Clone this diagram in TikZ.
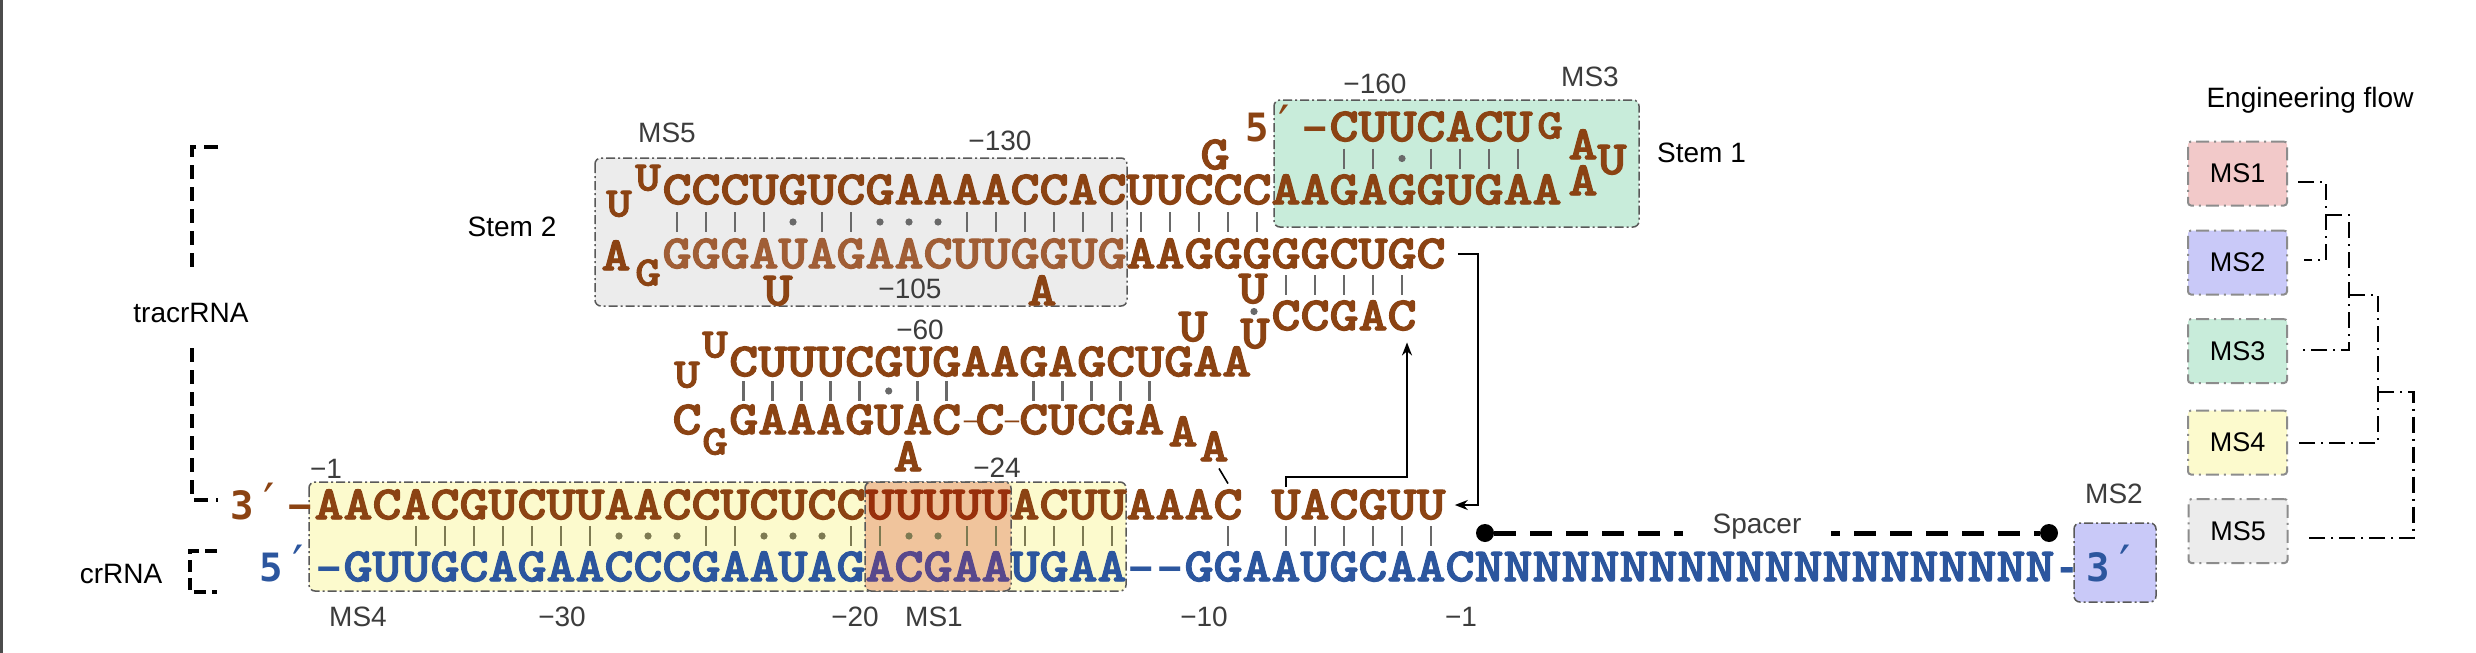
\documentclass[tikz,border=0pt]{standalone}
\usepackage{fontspec}
\usepackage{graphicx}
\setmainfont{Liberation Sans}
\newfontfamily\primefont{DejaVu Sans Mono}
\newfontfamily\pmfont{DejaVu Sans}
\newfontfamily\seqf[FakeBold=2]{lmmonolt10-bold.otf}
\usetikzlibrary{arrows.meta,calc}
\definecolor{brn}{RGB}{139,67,19}
\definecolor{brnl}{RGB}{160,94,54}
\definecolor{brnr}{RGB}{152,48,12}
\definecolor{blu}{RGB}{44,86,158}
\definecolor{pur}{RGB}{88,72,140}
\definecolor{mk}{RGB}{105,105,105}
\definecolor{mky}{RGB}{125,122,82}
\definecolor{lblc}{RGB}{60,60,60}
\definecolor{fgrey}{RGB}{236,236,236}
\definecolor{fgreen}{RGB}{200,236,218}
\definecolor{fyel}{RGB}{252,250,205}
\definecolor{forg}{RGB}{240,196,156}
\definecolor{fblue}{RGB}{201,201,248}
\definecolor{fpink}{RGB}{242,201,201}
\newcommand\sx[1]{\scalebox{1.16}[1]{#1}}
\newcommand\seqrow[6]{\foreach \ch [count=\i from #2] in {#6} {\node[#5] (#1-\i) at ({329+29*(\i+#3)},#4) {\sx{\ch}};}}
\newcommand\pbar[3][mk]{\draw[line width=2.5pt,#1] ($(#2.south)!0.5!(#3.north)+(0,-10)$) -- ($(#2.south)!0.5!(#3.north)+(0,10)$);}
\newcommand\pdot[3][mk]{\fill[#1] ($(#2.south)!0.5!(#3.north)$) circle (3.6pt);}
\tikzset{
  nt/.style={inner sep=0pt, text height=28.5pt, text depth=0pt, text=brn, font=\seqf\fontsize{48}{48}\selectfont},
  ntl/.style={nt, text=brnl},
  ntr/.style={nt, text=brnr},
  ntb/.style={nt, text=blu},
  ntp/.style={nt, text=pur},
  ns/.style={inner sep=0pt, text height=25pt, text depth=0pt, text=brn, font=\seqf\fontsize{42}{42}\selectfont},
  pf/.style={inner sep=0pt, text height=28.5pt, text depth=0pt, text=brn, font=\primefont\bfseries\fontsize{39}{39}\selectfont},
  pfb/.style={pf, text=blu},
  pm/.style={inner sep=0pt, text height=28.5pt, text depth=0pt, text=brn, font=\pmfont\fontsize{50}{50}\selectfont},
  pmb/.style={pm, text=blu},
  dsh/.style={inner sep=0pt, text height=16pt, text depth=0pt, text=brn, font=\fontsize{26}{26}\selectfont},
  lbl/.style={inner sep=0pt, text=lblc, font=\fontsize{28}{30}\selectfont},
  blk/.style={inner sep=0pt, text=black, font=\fontsize{28}{30}\selectfont},
  mbox/.style={draw=black!65, line width=1.5pt, dash pattern=on 9pt off 3pt on 2pt off 3pt, rounded corners=6pt},
  ebox/.style={draw=black!45, line width=2pt, dash pattern=on 13pt off 5pt on 2pt off 5pt, rounded corners=3pt, minimum width=99pt, minimum height=64pt, inner sep=0pt, font=\fontsize{27}{29}\selectfont},
  clad/.style={line width=2.2pt, dash pattern=on 16pt off 6pt on 2pt off 6pt},
  brk/.style={line width=4.5pt, dash pattern=on 14pt off 8pt},
  arr/.style={line width=2pt, -{Stealth[length=13pt,width=10pt]}},
  spl/.style={line width=5pt, dash pattern=on 22pt off 14pt},
}
\begin{document}
\begin{tikzpicture}[x=1pt,y=-1pt]
\useasboundingbox (0,0) rectangle (2476,653);
\fill[white] (0,0) rectangle (2476,653);
\fill[black!70] (0,0) rectangle (3,653);
% boxes
\draw[mbox, fill=fgrey] (595,158) rectangle (1127,306);
\draw[mbox, fill=fgreen] (1274,100) rectangle (1639,227);
\draw[mbox, fill=fyel] (309,482) rectangle (1126,591);
\draw[mbox, fill=forg] (865,482) rectangle (1011,591);
\draw[mbox, fill=fblue] (2074,523) rectangle (2156,602);
% stem 1
\node[pf] (p5a) at (1257,127) {5};
\node[pm] (p5b) at (1284,127) {′};
\node[pf] (p5c) at (1315,127) {−};
\seqrow{s1t}{35}{0}{127}{nt}{C,U,U,C,A,C,U}
\node[ns] (l1g) at (1550,126) {\sx{G}};
\node[nt] (l1a) at (1583,145) {\sx{A}};
\node[nt] (l1u) at (1612,160) {\sx{U}};
\node[nt] (l1b) at (1583,181) {\sx{A}};
% stem 2 top
\seqrow{s2t}{12}{0}{190}{nt}{C,C,C,U,G,U,C,G,A,A,A,A,C,C,A,C,U,U,C,C,C,A,A,G,A,G,G,U,G,A,A}
\node[ns] (l2u1) at (619,204) {\sx{U}};
\node[ns] (l2u2) at (648,178) {\sx{U}};
\node[nt] (l2a) at (616,256) {\sx{A}};
\node[ns] (l2g) at (648,273) {\sx{G}};
\seqrow{s2b}{12}{0}{254}{ntl}{G,G,G,A,U,A,G,A,A,C,U,U,G,G,U,G}
\seqrow{s2b}{28}{0}{254}{nt}{A,A,G,G,G,G,G,C,U,G,C}
\node[nt] (b2u) at (778,291) {\sx{U}};
\node[nt] (b2a) at (1042,291) {\sx{A}};
\node[nt] (gb) at (1215,155) {\sx{G}};
% junction
\node[nt] (ju1) at (1253,289) {\sx{U}};
\node[nt] (ju2) at (1255,334) {\sx{U}};
\node[nt] (ju3) at (1193,327) {\sx{U}};
\seqrow{cg}{33}{0}{316}{nt}{C,C,G,A,C}
% middle hairpin
\seqrow{mt}{14}{0.3}{362}{nt}{C,U,U,U,C,G,U,G,A,A,G,A,G,C,U,G,A,A}
\node[ns] (mlu1) at (687,375) {\sx{U}};
\node[ns] (mlu2) at (715,345) {\sx{U}};
\seqrow{mb}{14}{0.3}{420}{nt}{G,A,A,A,G,U,A,C}
\node[dsh] (md1) at (971,420) {–};
\node[nt] (mc) at (990,420) {\sx{C}};
\node[dsh] (md2) at (1012,420) {–};
\seqrow{mb}{24}{0.3}{420}{nt}{C,U,C,G,A}
\node[nt] (mlc) at (687,420) {\sx{C}};
\node[ns] (mlg) at (715,442) {\sx{G}};
\node[nt] (ab1) at (908,457) {\sx{A}};
\node[nt] (aa1) at (1183,432) {\sx{A}};
\node[nt] (aa2) at (1214,447) {\sx{A}};
% tracrRNA bottom
\node[pf] (p3a) at (242,505) {3};
\node[pm] (p3b) at (269,505) {′};
\node[pf] (p3c) at (300,505) {−};
\seqrow{tr}{0}{0}{505}{nt}{A,A,C,A,C,G,U,C,U,U,A,A,C,C,U,C,U,C,C}
\seqrow{tr}{19}{0}{505}{ntr}{U,U,U,U,U}
\seqrow{tr}{24}{0}{505}{nt}{A,C,U,U,A,A,A,C}
\seqrow{tr}{33}{0}{505}{nt}{U,A,C,G,U,U}
% crRNA
\node[pfb] (q5a) at (271,567) {5};
\node[pmb] (q5b) at (298,567) {′};
\node[pfb] (q5c) at (329,567) {−};
\seqrow{cr}{1}{0}{567}{ntb}{G,U,U,G,C,A,G,A,A,C,C,C,G,A,A,U,A,G}
\seqrow{cr}{19}{0}{567}{ntp}{A,C,G,A,A}
\seqrow{cr}{24}{0}{567}{ntb}{U,G,A,A}
\node[pfb] (cd1) at (1141,567) {−};
\node[pfb] (cd2) at (1170,567) {−};
\seqrow{cr}{30}{0}{567}{ntb}{G,G,A,A,U,G,C,A,A,C}
\seqrow{cr}{40}{0}{567}{ntb}{N,N,N,N,N,N,N,N,N,N,N,N,N,N,N,N,N,N,N,N}
\node[pfb] (q3c) at (2067,567) {-};
\node[pfb] (q3a) at (2098,567) {3};
\node[pmb] (q3b) at (2125,567) {′};
% base pairs
\foreach \c in {35,36,38,39,40,41} {\pbar{s1t-\c}{s2t-\c}}
\pdot{s1t-37}{s2t-37}
\foreach \c in {12,13,14,15,17,18,22,23,24,25,26,27,28,29,30,31,32} {\pbar{s2t-\c}{s2b-\c}}
\foreach \c in {16,19,20,21} {\pdot{s2t-\c}{s2b-\c}}
\foreach \c in {33,34,35,36,37} {\pbar{s2b-\c}{cg-\c}}
\pdot{ju1}{ju2}
\foreach \c in {14,15,16,17,18,20,21,24,25,26,27,28} {\pbar{mt-\c}{mb-\c}}
\pdot{mt-19}{mb-19}
\foreach \c in {3,4,5,6,7,8,9,13,14,18,19,22,23,24,25,26,27} {\pbar[mky]{tr-\c}{cr-\c}}
\foreach \c in {10,11,12,15,16,17,20,21} {\pdot[mky]{tr-\c}{cr-\c}}
\foreach \c in {31,33,34,35,36,37,38} {\pbar{tr-\c}{cr-\c}}
% connectors
\draw[arr] ([xshift=12pt]s2b-38.east) -- ++(20,0) |- ([xshift=9pt]tr-38.east);
\draw[arr] ([yshift=4pt]tr-33.north) -- ++(0,-10) -| ([xshift=5pt,yshift=-12pt]cg-37.south);
\draw[line width=1.6pt] ([yshift=7pt]tr-31.north) -- ([shift={(5pt,-7pt)}]aa2.south);
% labels
\node[lbl] (ms5) at (667,133) {MS5};
\node[lbl] (n130) at (1000,141) {−130};
\node[lbl] (n105) at (910,289) {−105};
\node[lbl] (n60) at (920,330) {−60};
\node[lbl] (n24) at (997,468) {−24};
\node[lbl] (n1a) at (326,469) {−1};
\node[lbl] (n160) at (1375,84) {−160};
\node[lbl] (ms3) at (1590,77) {MS3};
\node[lbl] (ms2) at (2114,494) {MS2};
\node[lbl] (ms4) at (358,617) {MS4};
\node[lbl] (n30) at (562,617) {−30};
\node[lbl] (n20) at (855,617) {−20};
\node[lbl] (ms1) at (934,617) {MS1};
\node[lbl] (n10) at (1204,617) {−10};
\node[lbl] (n1b) at (1461,617) {−1};
\node[blk, anchor=west] (st1) at (1657,153) {Stem 1};
\node[blk] (st2) at (512,227) {Stem 2};
\node[blk] (trl) at (191,313) {tracrRNA};
\node[blk] (crl) at (121,574) {crRNA};
% brackets
\coordinate (tb0) at (218,147); \coordinate (tb1) at (192,147); \coordinate (tb2) at (192,273);
\coordinate (tb3) at (192,348); \coordinate (tb4) at (192,500); \coordinate (tb5) at (218,500);
\draw[brk] (tb0) -- (tb1) -- (tb2);
\draw[brk] (tb3) -- (tb4) -- (tb5);
\coordinate (cb0) at (217,551); \coordinate (cb1) at (190,551); \coordinate (cb2) at (190,592); \coordinate (cb3) at (217,592);
\draw[brk, dash pattern=on 12pt off 6pt] (cb0) -- (cb1) -- (cb2) -- (cb3);
% spacer
\node[circle, fill=black, inner sep=0pt, minimum size=18pt] (sdl) at (1485,533) {};
\node[circle, fill=black, inner sep=0pt, minimum size=18pt] (sdr) at (2049,533) {};
\draw[spl] (sdl) -- (sdr);
\node[lbl, fill=white, inner xsep=30pt, inner ysep=3pt] (spc) at (1757,527) {Spacer};
% engineering flow
\node[blk] (eft) at (2310,100) {Engineering flow};
\node[ebox, fill=fpink] (e1) at (2237.5,173.5) {MS1};
\node[ebox, fill=fblue] (e2) at (2237.5,262.5) {MS2};
\node[ebox, fill=fgreen] (e3) at (2237.5,351) {MS3};
\node[ebox, fill=fyel] (e4) at (2237.5,442.5) {MS4};
\node[ebox, fill=fgrey] (e5) at (2238,531) {MS5};
\coordinate (j1) at (2326,215); \coordinate (j2) at (2349,295); \coordinate (j3) at (2378,392);
\draw[clad] ([shift={(10pt,-8.5pt)}]e1.east) -| ([shift={(38pt,2.5pt)}]e2.east) -- ([shift={(16pt,2.5pt)}]e2.east);
\draw[clad] (j1) -| ([shift={(61pt,1pt)}]e3.east) -- ([shift={(10pt,1pt)}]e3.east);
\draw[clad] (j2) -| ([shift={(90pt,-0.5pt)}]e4.east) -- ([shift={(8pt,-0.5pt)}]e4.east);
\draw[clad] (j3) -| ([shift={(125pt,-7pt)}]e5.east) -- ([shift={(16pt,-7pt)}]e5.east);
\end{tikzpicture}
\end{document}
